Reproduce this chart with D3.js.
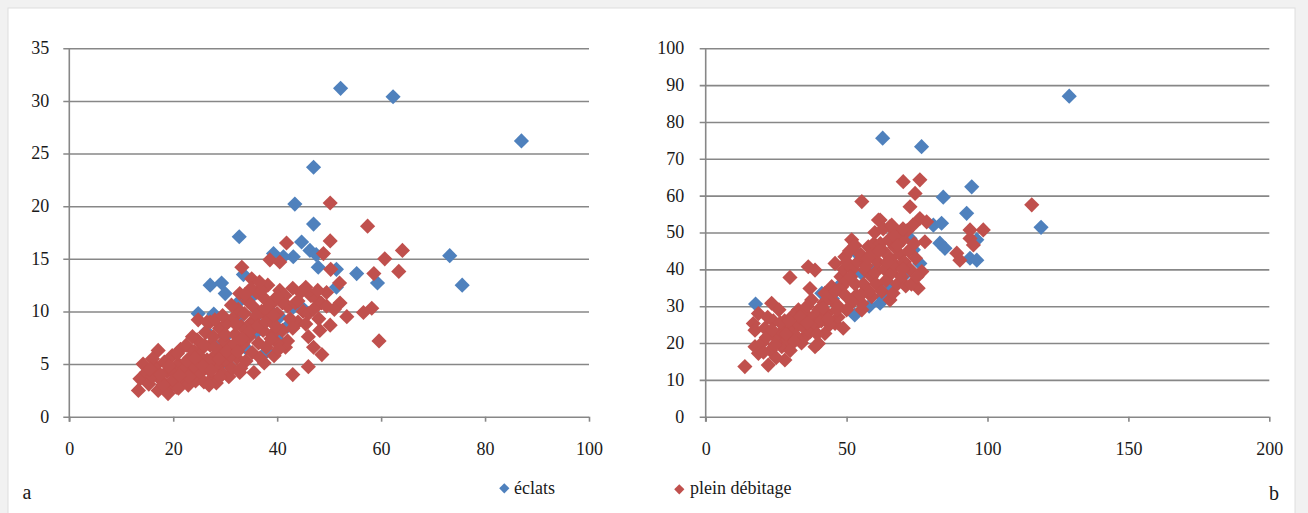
<!DOCTYPE html>
<html>
<head>
<meta charset="utf-8">
<script src="https://cdn.jsdelivr.net/npm/d3@7"></script>
<style>
  html, body { margin: 0; padding: 0; background: #f1f1f1; }
  svg { display: block; }
  svg text { font-family: 'Liberation Serif', 'DejaVu Serif', 'Noto Serif', serif !important; fill: #1a1a1a; }
</style>
</head>
<body>
<svg id="chart" width="1308" height="513"></svg>
<script>
// ---------- Data ----------
const seriesNames = ["éclats", "plein débitage"];
const panelLabels = ["a", "b"];

const leftXTicks = [0, 20, 40, 60, 80, 100];
const leftYTicks = [0, 5, 10, 15, 20, 25, 30, 35];
const rightXTicks = [0, 50, 100, 150, 200];
const rightYTicks = [0, 10, 20, 30, 40, 50, 60, 70, 80, 90, 100];

// panel a — éclats
const leftEclats = [
  [52.2,31.2],[62.3,30.4],[87.0,26.2],[47.0,23.7],[43.4,20.2],[47.0,18.3],[32.7,17.1],[44.7,16.6],
  [46.3,15.8],[47.5,15.4],[43.1,15.2],[39.3,15.5],[41.2,15.2],[47.9,14.2],[51.4,14.0],[55.3,13.6],
  [59.3,12.7],[51.4,12.3],[73.2,15.3],[75.6,12.5],[27.1,12.5],[29.3,12.7],[30.0,11.7],[33.5,13.5],
  [35.1,11.4],[32.8,11.0],[24.8,9.8],[27.8,9.75],[38.6,10.1],[43.1,10.4],[44.7,10.4],[26.4,8.1],
  [30.0,7.6],[32.5,9.3],[36.0,8.0],[40.0,7.4],[28.0,6.8],[34.0,6.5],[38.0,6.2],[42.0,8.6],
  [25.0,5.5],[22.0,4.5],[30.5,5.0],[36.5,9.8],[40.5,9.5]
];
// panel a — plein débitage
const leftPlein = [
  [50.2,20.3],[57.4,18.1],[50.2,16.7],[41.8,16.5],[48.9,15.5],[64.1,15.8],[60.7,15.0],[63.4,13.8],
  [58.6,13.6],[50.3,14.0],[52.0,12.7],[58.2,10.3],[56.6,9.9],[53.4,9.5],[52.1,10.8],[50.2,8.7],
  [48.2,8.2],[59.6,7.2],[46.0,7.6],[47.0,6.6],[48.6,5.9],[46.0,4.75],[43.0,4.0],[33.2,14.2],
  [35.1,13.1],[38.6,14.9],[40.5,14.7],[32.8,11.7],[37.3,12.3],[40.5,12.0],[24.8,9.2],[27.1,9.0],
  [35.5,4.2],[41.6,6.6],[37.5,5.1],
  [41.5,11.5],[43.0,12.2],[44.5,11.8],[45.5,12.3],[46.5,11.5],[47.5,11.2],[48.5,10.8],[49.5,10.5],
  [42.0,10.5],[43.5,10.8],[45.0,10.0],[46.0,9.8],[47.0,10.2],[48.0,9.3],[44.0,9.0],[45.5,8.8],
  [42.5,9.3],[41.0,8.2],[43.0,8.4],[40.0,9.8],[41.0,10.8],[42.0,7.2],[40.0,7.0],[39.0,7.8],
  [44.0,11.0],[51.0,10.2],[49.5,11.8],[47.8,12.0],
  [13.3,2.5],[13.6,3.6],[14.2,5.0],[14.8,4.2],[15.3,3.1],[16.0,3.8],[16.5,4.8],[17.1,6.3],
  [17.1,2.5],[17.8,3.4],[18.3,5.2],[18.8,4.3],[19.0,2.2],[19.5,3.0],[19.8,5.8],[20.2,4.1],
  [20.6,2.8],[21.0,5.0],[21.4,6.4],[21.8,3.6],[22.2,4.6],[22.5,6.8],[22.9,3.0],[23.2,5.6],
  [23.6,4.0],[24.0,6.2],[24.3,3.4],[24.6,7.3],[24.9,5.0],[25.3,4.2],[25.6,6.5],[25.9,3.3],
  [26.2,8.0],[26.5,5.4],[26.8,4.5],[27.1,6.8],[27.4,3.6],[27.7,7.6],[28.0,5.8],[28.3,3.2],
  [28.6,4.8],[28.9,8.4],[29.2,6.3],[29.5,4.1],[29.8,7.2],[30.1,5.3],[30.4,8.9],[30.7,3.8],
  [31.0,6.6],[31.3,4.6],[31.6,9.4],[31.9,7.8],[32.2,5.6],[32.5,10.2],[32.8,4.2],[33.1,8.6],
  [33.4,6.9],[33.7,9.8],[34.0,5.3],[34.3,11.0],[34.6,7.6],[34.9,8.9],[35.2,6.1],[35.5,10.4],
  [35.8,9.0],[36.1,11.8],[36.4,7.0],[36.7,5.6],[37.0,10.0],[37.3,8.2],[37.6,11.2],[37.9,6.6],
  [38.2,12.5],[38.5,9.4],[38.8,7.4],[39.1,10.8],[39.4,5.8],[39.7,8.6],[40.0,11.4],[40.3,6.4],
  [20.0,3.5],[23.0,3.8],[25.0,5.8],[27.0,5.2],[29.0,3.8],[31.0,5.8],[33.0,4.6],[34.0,7.8],
  [36.0,9.6],[18.0,3.0],[21.0,2.7],[24.0,4.8],[26.0,6.8],[28.0,6.6],[30.0,7.8],[32.0,8.8],
  [35.0,12.2],[37.0,12.0],[38.0,10.3],[16.0,5.5],[26.5,9.0],[28.0,9.2],
  [15.5,4.5],[17.5,4.0],[19.2,4.8],[20.8,6.0],[22.6,5.3],[24.2,5.6],[25.8,4.8],[27.3,4.4],
  [28.8,5.5],[30.3,6.2],[31.8,6.9],[33.3,7.4],[34.8,8.1],[36.3,8.6],[37.8,9.0],[39.3,9.6],
  [29.5,9.6],[31.2,10.6],[33.8,11.6],[36.6,12.8],[23.7,7.6],[21.2,3.9],[26.9,3.0],[32.4,6.2]
];

// panel b — éclats
const rightEclats = [
  [129,87],[62.8,75.6],[76.6,73.3],[119,51.4],[94.4,62.4],[84.3,59.6],[92.6,55.2],[80.8,52],
  [83.7,52.5],[83.1,47.1],[84.9,45.7],[93.8,43],[96.2,42.5],[96.2,48],[76,41.6],[73.7,45.3],
  [72.5,48.4],[61.9,30.8],[62.5,32.6],[55.4,38.9],[53.6,44.4],[52.9,27.6],[41.2,33.5],[17.7,30.6],
  [60,40],[65,36],[70,38],[48,36],[58,30],[45,32]
];
// panel b — plein débitage
const rightPlein = [
  [115.7,57.5],[70.1,63.8],[76,64.3],[74.3,60.6],[72.5,57],[55.4,58.4],[61.3,53.4],[51.8,48],
  [36.4,40.7],[38.8,39.8],[29.9,37.8],[37,34.8],[93.8,50.7],[98.5,50.7],[93.8,48.4],[95,46.6],
  [89.1,44.4],[90.2,42.5],[77.8,47.5],[76.7,39.4],[75.4,34.9],[65.4,31.7],[78.4,52.9],[76,53.8],
  [61.9,53.4],[65.4,51.6],
  [18.7,28],[16.9,25.3],[17.5,23.5],[23.4,30.8],[13.9,13.6],[22.2,14],[17.5,19],[18.7,17.2],
  [28.1,15.4],[24.6,22.6],[27,19],[32.9,29],[36.4,27.1],[35.2,21.7],[40,19.9],[42.3,22.6],
  [38.8,19],[45.9,25.3],[48.8,24],[55.4,29],[42.3,33.5],[44.7,35.3],[45.9,41.6],[49.4,43.4],
  [57.7,46.1],[59.7,47],[56.5,39.8],[58.9,38],[48.3,35.3],[55.4,30.8],[58.9,32.6],[44.7,31.7],
  [37.6,31.7],
  [20,20],[21,24],[22,27],[23,18],[24,26],[25,16],[25.5,21],[26,29],[27,23],[28,26],[29,21],
  [30,18],[30.5,24],[31,27.5],[32,22],[33,25],[34,20],[34.5,28],[35,24],[36,30],[37,23],[38,27],
  [39,25],[40,29],[41,26],[42,31],[43,28],[44,25],[46,34],[47,30],[48,38],[49,40],[50,37],[50,42],
  [51,45],[52,40],[53,36],[53.5,33],[54,42],[55,44],[56,36],[57,41],[58,34],[59,44],[60,39],
  [60.5,36],[61,42],[62,47],[62.5,34],[63,45],[63.5,40],[64,37],[65,48],[65.5,43],[66,39],
  [66.5,33.5],[67,46],[67.5,41],[68,36],[68.5,50],[69,44],[69.5,38],[70,48],[70.5,42],[71,35.5],
  [71.5,50.5],[72,45],[72.5,40],[73,36],[73.5,52],[74,47],[74.5,43],[75,38],[55,33],[52,31],
  [50,29],[47,27],[60,50],[63,51],[66,52],[67,49],[70,51],
  [21.5,21.5],[23.5,23.5],[26.5,25.5],[28.5,22.5],[31.5,20.5],[33.5,27],[36,25.5],[39.5,22.5],
  [41.5,29.5],[43.5,26.5],[46.5,29],[49.5,33],[51.5,38],[53,46.5],[57.5,43],[61.5,45],[64.5,42],
  [68,46.5],[70,40],[20.5,17.5],[24.5,19.5],[29.5,26]
];

// ---------- Drawing ----------
const colors = ["#4F81BD", "#C0504D"];
const gridColor = "#878787";
const fontStack = "'Liberation Serif', 'DejaVu Serif', 'Noto Serif', serif";
const svg = d3.select("#chart");

// card
svg.append("rect").attr("x", 8).attr("y", 8).attr("width", 1287).attr("height", 520)
  .attr("fill", "#ffffff").attr("stroke", "#dedede").attr("stroke-width", 1);

const diamond = d3.symbol().type(d3.symbolSquare).size(115);
const diamondSmall = d3.symbol().type(d3.symbolSquare).size(52);

function panel(cfg) {
  const x = d3.scaleLinear().domain(cfg.xDomain).range([cfg.x0, cfg.x1]);
  const y = d3.scaleLinear().domain(cfg.yDomain).range([416.7, 48.3]);
  const w = cfg.x1 - cfg.x0;

  const gy = svg.append("g").attr("transform", `translate(${cfg.x0},0)`)
    .call(d3.axisLeft(y).tickValues(cfg.yTicks).tickSize(6).tickSizeOuter(0).tickFormat(d3.format("d")));
  gy.attr("font-family", fontStack).attr("font-size", 18);
  gy.select(".domain").remove();
  gy.selectAll(".tick line").attr("x1", -6).attr("x2", w)
    .attr("stroke", gridColor).attr("stroke-width", 1.6);
  gy.selectAll(".tick text").attr("x", -cfg.yLabelGap).attr("dy", "0.3em").attr("fill", "#1a1a1a");

  // vertical axis line
  svg.append("line").attr("x1", cfg.x0).attr("x2", cfg.x0)
    .attr("y1", y(cfg.yDomain[1])).attr("y2", y(0) + 5)
    .attr("stroke", gridColor).attr("stroke-width", 1.6);

  const gx = svg.append("g").attr("transform", `translate(0,${y(0)})`)
    .call(d3.axisBottom(x).tickValues(cfg.xTicks).tickSize(5).tickSizeOuter(0).tickFormat(d3.format("d")));
  gx.attr("font-family", fontStack).attr("font-size", 18);
  gx.select(".domain").remove();
  gx.selectAll(".tick line").attr("stroke", gridColor).attr("stroke-width", 1.6);
  gx.selectAll(".tick text").attr("y", 25.5).attr("dy", "0.71em").attr("fill", "#1a1a1a");

  const series = [cfg.s1, cfg.s2];
  series.forEach((data, i) => {
    svg.append("g").selectAll("path").data(data).join("path")
      .attr("d", diamond)
      .attr("transform", d => `translate(${x(d[0])},${y(d[1])}) rotate(45)`)
      .attr("fill", colors[i]);
  });
}

panel({ x0: 69.3, x1: 589, xDomain: [0, 100], yDomain: [0, 35],
        xTicks: leftXTicks, yTicks: leftYTicks, yLabelGap: 20, s1: leftEclats, s2: leftPlein });
panel({ x0: 705.7, x1: 1269.3, xDomain: [0, 200], yDomain: [0, 100],
        xTicks: rightXTicks, yTicks: rightYTicks, yLabelGap: 21.5, s1: rightEclats, s2: rightPlein });

// legend
const legendPos = [[504.3, 488.3, 514], [679.3, 489.3, 690]];
seriesNames.forEach((name, i) => {
  const p = legendPos[i];
  svg.append("path").attr("d", diamondSmall)
    .attr("transform", `translate(${p[0]},${p[1]}) rotate(45)`).attr("fill", colors[i]);
  svg.append("text").attr("x", p[2]).attr("y", 494)
    .attr("font-family", fontStack).attr("font-size", 18).text(name);
});

// panel letters
svg.append("text").attr("x", 27).attr("y", 499).attr("text-anchor", "middle")
  .attr("font-family", fontStack).attr("font-size", 20).text(panelLabels[0]);
svg.append("text").attr("x", 1274).attr("y", 500).attr("text-anchor", "middle")
  .attr("font-family", fontStack).attr("font-size", 20).text(panelLabels[1]);
</script>
</body>
</html>
